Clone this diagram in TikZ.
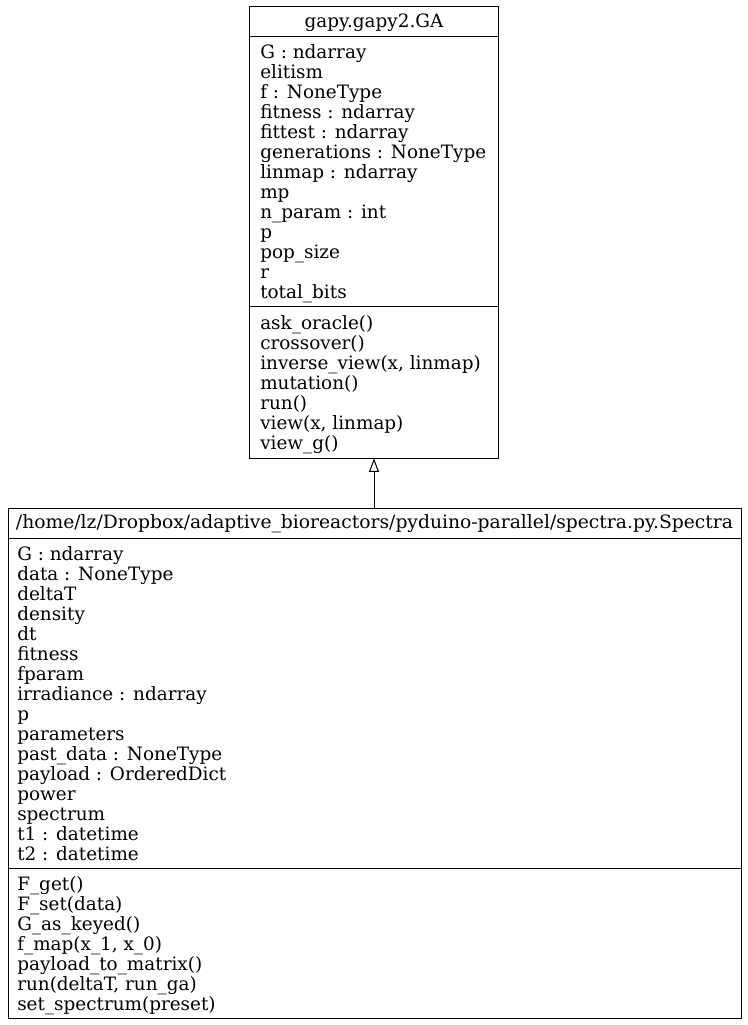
\documentclass[tikz,border=0pt]{standalone}
\usepackage{fontspec}
\setmainfont{DejaVu Serif}
\usepackage{graphicx}
\usetikzlibrary{arrows.meta, positioning}

\begin{document}
\begin{tikzpicture}[x=0.75pt, y=-0.75pt,
    classbox/.style={draw, line width=0.75pt, inner sep=0pt},
    members/.style={anchor=north west, align=left, inner sep=0pt, font=\fontsize{13.8}{15}\selectfont},
    title/.style={anchor=base, inner sep=0pt, font=\fontsize{13.8}{15}\selectfont},
    inherit/.style={-{Triangle[open, length=10pt, width=7.5pt]}, line width=0.75pt}]
  \useasboundingbox (0,0) rectangle (748,1025);

  % base class
  \node[classbox, minimum width=186.75pt, minimum height=339pt] (ga) at (374,232) {};
  \draw[line width=0.75pt] (249.5,36) -- (498.5,36);
  \draw[line width=0.75pt] (249.5,306) -- (498.5,306);
  \node[title] (gatitle) at (374,27) {gapy.gapy2.GA};
  \node[members] (gaattr) at (260,44) {G : ndarray\\ elitism\\ f : NoneType\\ fitness : ndarray\\ fittest : ndarray\\ generations : NoneType\\ linmap : ndarray\\ mp\\ n\_param : int\\ p\\ pop\_size\\ r\\ total\_bits};
  \node[members] (gameth) at (260,315) {ask\_oracle()\\ crossover()\\ inverse\_view(x, linmap)\\ mutation()\\ run()\\ view(x, linmap)\\ view\_g()};

  % derived class
  \node[classbox, minimum width=549.75pt, minimum height=382.5pt] (spectra) at (374.5,763) {};
  \draw[line width=0.75pt] (8,538) -- (741,538);
  \draw[line width=0.75pt] (8,868) -- (741,868);
  \node[title] (sptitle) at (374.5,528) {\resizebox{537.75pt}{\height}{/home/lz/Dropbox/adaptive\_bioreactors/pyduino-parallel/spectra.py.Spectra}};
  \node[members] (spattr) at (17,546) {G : ndarray\\ data : NoneType\\ deltaT\\ density\\ dt\\ fitness\\ fparam\\ irradiance : ndarray\\ p\\ parameters\\ past\_data : NoneType\\ payload : OrderedDict\\ power\\ spectrum\\ t1 : datetime\\ t2 : datetime};
  \node[members] (spmeth) at (17,876) {F\_get()\\ F\_set(data)\\ G\_as\_keyed()\\ f\_map(x\_1, x\_0)\\ payload\_to\_matrix()\\ run(deltaT, run\_ga)\\ set\_spectrum(preset)};

  \draw[inherit] (ga.south |- spectra.north) -- (ga.south);
\end{tikzpicture}
\end{document}
